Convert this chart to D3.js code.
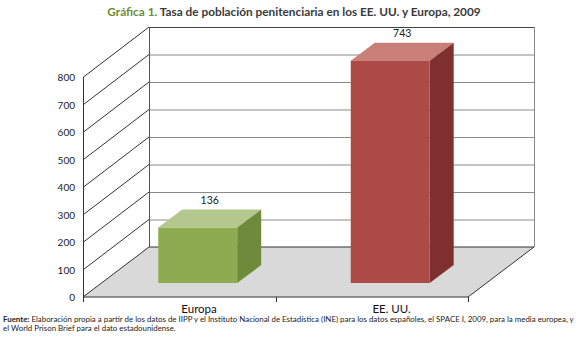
<!DOCTYPE html>
<html>
<head>
<meta charset="utf-8">
<script src="https://cdn.jsdelivr.net/npm/d3@7"></script>
<style>
  body { margin: 0; background: #fff; }
  svg { display: block; font-family: Lato, "Open Sans", sans-serif; }
</style>
</head>
<body>
<svg id="chart" width="580" height="338"></svg>
<script>
const categories = ["Europa", "EE. UU."];
const values = [136, 743];
const yTicks = [0, 100, 200, 300, 400, 500, 600, 700, 800];

const frontColors = ["#8eab52", "#ad4a47"];
const topColors = ["#b4c88d", "#c77f78"];
const sideColors = ["#6e8b3b", "#7f302e"];

const svg = d3.select("#chart");

// depth of the box (floor) and of each bar
const dx = 66, dy = -50;
const bdx = 24, bdy = -18;

const x = d3.scaleBand().domain(categories).range([83, 468]);
const yFront = d3.scaleLinear().domain([0, 800]).range([297, 77]);
const yBack = d3.scaleLinear().domain([0, 800]).range([297 + dy, 77 + dy]);

const line = d3.line();

// title
const title = svg.append("text")
  .attr("x", 294).attr("y", 16)
  .attr("text-anchor", "middle")
  .attr("font-size", 11.8)
  .attr("font-weight", "bold");
title.append("tspan").attr("fill", "#6b8c35").text("Gráfica 1.");
title.append("tspan").attr("fill", "#3a3a3a").text(" Tasa de población penitenciaria en los EE. UU. y Europa, 2009");

// floor
const x0 = x.range()[0], x1 = x.range()[1];
svg.append("path")
  .attr("d", line([[x0, yFront(0)], [x1, yFront(0)], [x1 + dx, yBack(0)], [x0 + dx, yBack(0)]]) + "Z")
  .attr("fill", "#d9d9d9")
  .attr("stroke", "#333")
  .attr("stroke-width", 1);

// back wall gridlines
const grid = svg.append("g");
grid.selectAll(".hgrid")
  .data(yTicks.filter(d => d > 0))
  .join("line")
  .attr("x1", x0 + dx).attr("x2", x1 + dx)
  .attr("y1", d => yBack(d) + 0.5).attr("y2", d => yBack(d) + 0.5)
  .attr("stroke", d => d === 800 ? "#444" : "#8a8a8a");

// side wall gridlines
grid.selectAll(".dgrid")
  .data(yTicks.filter(d => d > 0))
  .join("line")
  .attr("x1", x0 + 0.5).attr("y1", d => yFront(d))
  .attr("x2", x0 + dx).attr("y2", d => yBack(d))
  .attr("stroke", "#333");

// wall edges
grid.append("line")
  .attr("x1", x0 + dx + 0.5).attr("x2", x0 + dx + 0.5)
  .attr("y1", yBack(800)).attr("y2", yBack(0))
  .attr("stroke", "#555");
grid.append("line")
  .attr("x1", x1 + dx + 0.5).attr("x2", x1 + dx + 0.5)
  .attr("y1", yBack(800)).attr("y2", yBack(0))
  .attr("stroke", "#888");
grid.append("line")
  .attr("x1", x0 + 0.5).attr("x2", x0 + 0.5)
  .attr("y1", yFront(800)).attr("y2", yFront(0))
  .attr("stroke", "#333");

// y tick labels
svg.append("g")
  .selectAll("text")
  .data(yTicks)
  .join("text")
  .attr("x", 75)
  .attr("y", d => yFront(d) + 4)
  .attr("text-anchor", "end")
  .attr("font-size", 10)
  .attr("fill", "#222")
  .text(d => d);

// x ticks
svg.append("g")
  .selectAll("line")
  .data([x0, x0 + x.bandwidth(), x1])
  .join("line")
  .attr("x1", d => Math.round(d) + 0.5).attr("x2", d => Math.round(d) + 0.5)
  .attr("y1", yFront(0)).attr("y2", yFront(0) + 5)
  .attr("stroke", "#333");

// bars
const bw = x.bandwidth() * 0.41;
const zShift = 0.28;
const barBottom = yFront(0) + dy * zShift;

const bars = svg.append("g")
  .selectAll("g")
  .data(categories.map((c, i) => ({ name: c, value: values[i], i: i })))
  .join("g");

bars.each(function (d) {
  const g = d3.select(this);
  const left = x(d.name) + x.bandwidth() / 2 + dx * zShift - bw / 2;
  const right = left + bw;
  const top = yBack(d.value) - bdy;

  g.append("path")
    .attr("d", line([[left, top], [left + bdx, top + bdy], [right + bdx, top + bdy], [right, top]]) + "Z")
    .attr("fill", topColors[d.i]);
  g.append("path")
    .attr("d", line([[right, top], [right + bdx, top + bdy], [right + bdx, barBottom + bdy], [right, barBottom]]) + "Z")
    .attr("fill", sideColors[d.i]);
  g.append("rect")
    .attr("x", left).attr("y", top)
    .attr("width", bw).attr("height", barBottom - top)
    .attr("fill", frontColors[d.i]);

  g.append("text")
    .attr("x", (left + right + bdx) / 2)
    .attr("y", top + bdy - 6)
    .attr("text-anchor", "middle")
    .attr("font-size", 10.5)
    .attr("fill", "#222")
    .text(d.value);

  g.append("text")
    .attr("x", x(d.name) + x.bandwidth() / 2 + dx * 0.3)
    .attr("y", 313)
    .attr("text-anchor", "middle")
    .attr("font-size", 11.5)
    .attr("fill", "#111")
    .text(d.name);
});

// source note
const note = svg.append("text")
  .attr("x", 3).attr("y", 322)
  .attr("font-size", 7.9)
  .attr("fill", "#222");
note.append("tspan").attr("font-weight", "bold").text("Fuente:");
note.append("tspan").text(" Elaboración propia a partir de los datos de IIPP y el Instituto Nacional de Estadística (INE) para los datos españoles, el SPACE I, 2009, para la media europea, y");
svg.append("text")
  .attr("x", 3).attr("y", 331)
  .attr("font-size", 7.9)
  .attr("fill", "#222")
  .text("el World Prison Brief para el dato estadounidense.");
</script>
</body>
</html>
